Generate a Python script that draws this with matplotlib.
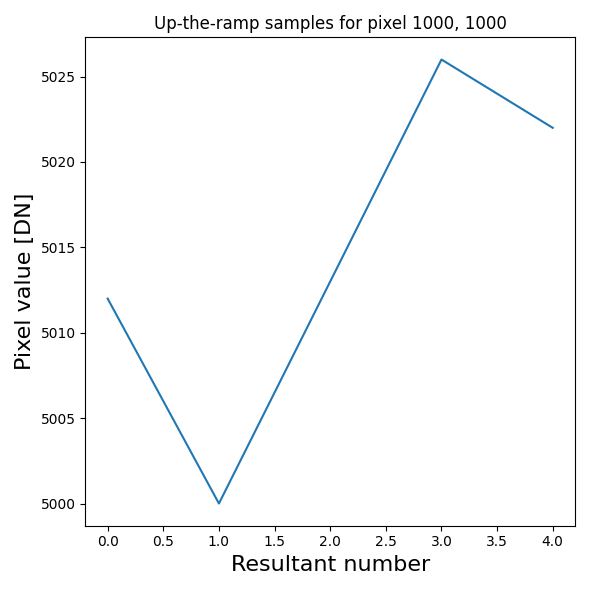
import matplotlib
matplotlib.use("Agg")
import matplotlib.pyplot as plt

resultants = [0, 1, 2, 3, 4]
pixel_values = [5012, 5000, 5013, 5026, 5022]

fig, ax = plt.subplots(figsize=(5.9, 5.9), dpi=100)
ax.plot(resultants, pixel_values)
ax.set_title("Up-the-ramp samples for pixel 1000, 1000")
ax.set_xlabel("Resultant number", fontsize=16)
ax.set_ylabel("Pixel value [DN]", fontsize=16)
plt.tight_layout()
plt.savefig("out.png", dpi=100)
